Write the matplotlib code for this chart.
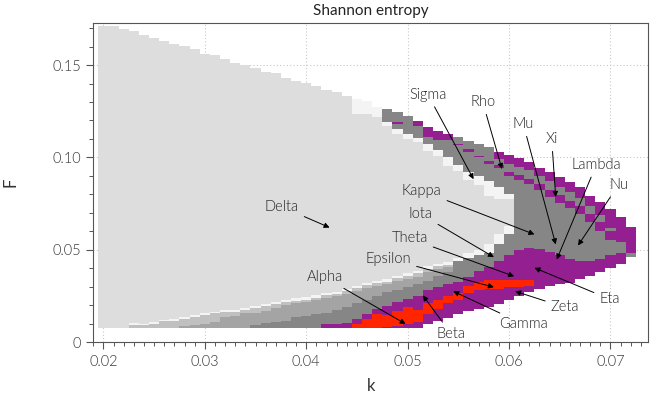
import numpy as np
import matplotlib
matplotlib.use("Agg")
import matplotlib.pyplot as plt
from matplotlib.colors import ListedColormap, BoundaryNorm

nan = np.nan
plt.rcParams['font.family'] = ['Lato', 'DejaVu Sans']
plt.rcParams['font.weight'] = 300

# ---- grid columns (k) ----
k_vals = [0.020, 0.021, 0.022, 0.023, 0.024, 0.025, 0.026, 0.027, 0.028, 0.029,
          0.030, 0.031, 0.032, 0.033, 0.034, 0.035, 0.036, 0.037, 0.038, 0.039,
          0.040, 0.041, 0.042, 0.043, 0.044, 0.045, 0.046, 0.047, 0.048, 0.049,
          0.050, 0.051, 0.052, 0.053, 0.054, 0.055, 0.056, 0.057, 0.058, 0.059,
          0.060, 0.061, 0.062, 0.063, 0.064, 0.065, 0.066, 0.067, 0.068, 0.069,
          0.070, 0.071, 0.072]

# ---- region boundaries in F for every k column ----
f_bot = [0.0075, 0.0075, 0.0075, 0.0075, 0.0075, 0.0075, 0.0075, 0.0075, 0.0075, 0.0075,
         0.0075, 0.0075, 0.0075, 0.0075, 0.0075, 0.0075, 0.0075, 0.0075, 0.0075, 0.0075,
         0.0075, 0.0075, 0.0075, 0.0075, 0.0075, 0.0075, 0.0075, 0.0075, 0.0075, 0.0075,
         0.0075, 0.0075, 0.0098, 0.0113, 0.0131, 0.0152, 0.0167, 0.0180, 0.0192, 0.0207,
         0.0230, 0.0250, 0.0269, 0.0287, 0.0305, 0.0314, 0.0323, 0.0341, 0.0360, 0.0380,
         0.0400, 0.0423, 0.0459]

f_top = [0.1712, 0.1712, 0.1695, 0.1686, 0.1664, 0.1644, 0.1633, 0.1613, 0.1603, 0.1585,
         0.1563, 0.1554, 0.1532, 0.1512, 0.1502, 0.1484, 0.1464, 0.1455, 0.1433, 0.1415,
         0.1406, 0.1386, 0.1366, 0.1356, 0.1334, 0.1316, 0.1305, 0.1275, 0.1262, 0.1244,
         0.1226, 0.1195, 0.1162, 0.1145, 0.1127, 0.1109, 0.1091, 0.1073, 0.1055, 0.1030,
         0.1012, 0.0995, 0.0973, 0.0946, 0.0919, 0.0892, 0.0865, 0.0838, 0.0793, 0.0757,
         0.0721, 0.0676, 0.0622]

# Delta (light grey) region
delta_top = [0.1712, 0.1712, 0.1695, 0.1686, 0.1664, 0.1644, 0.1633, 0.1613, 0.1603, 0.1585,
             0.1563, 0.1554, 0.1532, 0.1512, 0.1502, 0.1484, 0.1464, 0.1455, 0.1433, 0.1415,
             0.1406, 0.1386, 0.1366, 0.1356, 0.1334, 0.1235, 0.1235, 0.1217, 0.1172, 0.1127,
             0.1100, 0.1085, 0.1036, 0.1009, 0.0955, 0.0928, 0.0874, 0.0850, 0.0793, 0.0775,
             0.0775, nan, nan, nan, nan, nan, nan, nan, nan, nan,
             nan, nan, nan]

delta_bot = [0.0075, 0.0075, 0.0075, 0.0105, 0.0097, 0.0107, 0.0121, 0.0125, 0.0134, 0.0147,
             0.0158, 0.0165, 0.0174, 0.0176, 0.0183, 0.0194, 0.0207, 0.0217, 0.0228, 0.0237,
             0.0243, 0.0252, 0.0265, 0.0273, 0.0288, 0.0306, 0.0320, 0.0333, 0.0342, 0.0360,
             0.0373, 0.0386, 0.0410, 0.0426, 0.0436, 0.0455, 0.0480, 0.0500, 0.0532, 0.0586,
             0.0631, nan, nan, nan, nan, nan, nan, nan, nan, nan,
             nan, nan, nan]

# upper near-white strip above Delta
white_top = [0.1712, 0.1712, 0.1695, 0.1686, 0.1664, 0.1644, 0.1633, 0.1613, 0.1603, 0.1585,
             0.1563, 0.1554, 0.1532, 0.1512, 0.1502, 0.1484, 0.1464, 0.1455, 0.1433, 0.1415,
             0.1406, 0.1386, 0.1366, 0.1356, 0.1334, 0.1316, 0.1305, 0.1275, 0.1190, 0.1154,
             0.1125, 0.1105, 0.1076, 0.1040, 0.1000, 0.0960, 0.0919, 0.0900, 0.0870, 0.0838,
             0.0800, nan, nan, nan, nan, nan, nan, nan, nan, nan,
             nan, nan, nan]

# lower near-white strip below Delta
white_bot = [0.0075, 0.0075, 0.0075, 0.0095, 0.0092, 0.0098, 0.0112, 0.0116, 0.0125, 0.0137,
             0.0147, 0.0155, 0.0164, 0.0165, 0.0172, 0.0183, 0.0196, 0.0205, 0.0216, 0.0225,
             0.0231, 0.0240, 0.0253, 0.0260, 0.0275, 0.0293, 0.0307, 0.0320, 0.0328, 0.0346,
             0.0359, 0.0372, 0.0395, 0.0411, 0.0420, 0.0438, 0.0455, 0.0470, 0.0480, 0.0532,
             0.0586, nan, nan, nan, nan, nan, nan, nan, nan, nan,
             nan, nan, nan]

# top of the medium grey layer
mid_top = [0.0075, 0.0075, 0.0075, 0.0075, 0.0075, 0.0075, 0.0075, 0.0075, 0.0084, 0.0090,
           0.0098, 0.0111, 0.0134, 0.0143, 0.0156, 0.0161, 0.0170, 0.0185, 0.0200, 0.0210,
           0.0218, 0.0228, 0.0240, 0.0248, 0.0262, 0.0278, 0.0292, 0.0305, 0.0312, 0.0330,
           0.0342, 0.0355, 0.0380, 0.0395, 0.0405, 0.0438, 0.0455, 0.0470, 0.0480, 0.0532,
           0.0586, nan, nan, nan, nan, nan, nan, nan, nan, nan,
           nan, nan, nan]

# top of the dark grey layer
dark_top = [0.0075, 0.0075, 0.0075, 0.0075, 0.0075, 0.0075, 0.0075, 0.0075, 0.0075, 0.0075,
            0.0075, 0.0075, 0.0075, 0.0075, 0.0075, 0.0093, 0.0105, 0.0107, 0.0116, 0.0134,
            0.0143, 0.0150, 0.0160, 0.0175, 0.0190, 0.0210, 0.0230, 0.0250, 0.0270, 0.0279,
            0.0297, 0.0315, 0.0333, 0.0360, 0.0378, 0.0438, 0.0455, 0.0470, 0.0480, 0.0532,
            0.0586, nan, nan, nan, nan, nan, nan, nan, nan, nan,
            nan, nan, nan]

# top of the lower purple region
purple_top = [0.0075, 0.0075, 0.0075, 0.0075, 0.0075, 0.0075, 0.0075, 0.0075, 0.0075, 0.0075,
              0.0075, 0.0075, 0.0075, 0.0075, 0.0075, 0.0075, 0.0075, 0.0075, 0.0075, 0.0075,
              0.0075, 0.0075, 0.0098, 0.0098, 0.0105, 0.0125, 0.0152, 0.0179, 0.0197, 0.0215,
              0.0233, 0.0251, 0.0279, 0.0297, 0.0315, 0.0324, 0.0351, 0.0387, 0.0405, 0.0440,
              0.0470, 0.0500, 0.0510, 0.0505, 0.0490, 0.0470, 0.0450, 0.0440, 0.0440, 0.0450,
              0.0470, 0.0480, 0.0459]

# red region
red_bot = [nan, nan, nan, nan, nan, nan, nan, nan, nan, nan,
           nan, nan, nan, nan, nan, nan, nan, nan, nan, nan,
           nan, nan, nan, nan, nan, 0.0075, 0.0075, 0.0075, 0.0080, 0.0085,
           0.0100, 0.0110, 0.0150, 0.0180, 0.0210, 0.0230, 0.0265, 0.0280, 0.0285, 0.0290,
           0.0300, 0.0300, 0.0305, nan, nan, nan, nan, nan, nan, nan,
           nan, nan, nan]
red_top = [nan, nan, nan, nan, nan, nan, nan, nan, nan, nan,
           nan, nan, nan, nan, nan, nan, nan, nan, nan, nan,
           nan, nan, nan, nan, nan, 0.0100, 0.0125, 0.0150, 0.0145, 0.0170,
           0.0190, 0.0175, 0.0210, 0.0230, 0.0250, 0.0265, 0.0305, 0.0325, 0.0335, 0.0335,
           0.0335, 0.0335, 0.0335, nan, nan, nan, nan, nan, nan, nan,
           nan, nan, nan]

# outer purple band along the upper edge
outer_bot = [nan, nan, nan, nan, nan, nan, nan, nan, nan, nan,
             nan, nan, nan, nan, nan, nan, nan, nan, nan, nan,
             nan, nan, nan, nan, nan, nan, nan, nan, nan, nan,
             nan, 0.1170, 0.1110, 0.1095, 0.1095, nan, nan, nan, nan, 0.0990,
             0.0965, 0.0950, 0.0930, 0.0900, 0.0870, 0.0840, 0.0810, 0.0780, 0.0735, 0.0690,
             0.0620, 0.0540, 0.0480]

# inner purple streak inside the grey band
stripe_bot = [nan, nan, nan, nan, nan, nan, nan, nan, nan, nan,
              nan, nan, nan, nan, nan, nan, nan, nan, nan, nan,
              nan, nan, nan, nan, nan, nan, nan, nan, nan, 0.1180,
              nan, nan, nan, nan, nan, 0.1065, 0.1028, 0.1000, 0.0964, 0.0940,
              0.0900, 0.0880, 0.0855, 0.0825, 0.0785, 0.0755, 0.0725, 0.0695, 0.0650, 0.0600,
              0.0555, nan, nan]
stripe_top = [nan, nan, nan, nan, nan, nan, nan, nan, nan, nan,
              nan, nan, nan, nan, nan, nan, nan, nan, nan, nan,
              nan, nan, nan, nan, nan, nan, nan, nan, nan, 0.1190,
              nan, nan, nan, nan, nan, 0.1075, 0.1046, 0.1010, 0.0982, 0.0960,
              0.0920, 0.0905, 0.0885, 0.0855, 0.0825, 0.0795, 0.0765, 0.0735, 0.0695, 0.0650,
              0.0600, nan, nan]

# ---- annotations: label, text position (k, F), arrow tip (k, F) ----
labels = ["Sigma", "Rho", "Mu", "Xi", "Lambda", "Nu", "Kappa", "Delta", "Iota",
          "Theta", "Epsilon", "Alpha", "Beta", "Gamma", "Zeta", "Eta"]
text_k = [0.0520, 0.0574, 0.0614, 0.0642, 0.0686, 0.0708, 0.0514, 0.0376, 0.0513,
          0.0502, 0.0481, 0.0418, 0.0543, 0.0614, 0.0655, 0.0699]
text_F = [0.1340, 0.1300, 0.1181, 0.1100, 0.0960, 0.0852, 0.0819, 0.0732, 0.0692,
          0.0561, 0.0451, 0.0351, 0.0043, 0.0098, 0.0188, 0.0233]
tip_k = [0.0565, 0.0593, 0.0646, 0.0646, 0.0647, 0.0668, 0.0625, 0.0423, 0.0585,
         0.0605, 0.0585, 0.0498, 0.0515, 0.0545, 0.0606, 0.0625]
tip_F = [0.0882, 0.0937, 0.0529, 0.0786, 0.0447, 0.0523, 0.0583, 0.0620, 0.0460,
         0.0356, 0.0297, 0.0098, 0.0253, 0.0275, 0.0275, 0.0402]

# ---- build categorical image ----
NONE, LG, WH, C1, C2, C3, PUR, RED = range(8)
colors = ['#ffffff', '#dddddd', '#f4f4f4', '#c0c0c0', '#a4a4a4', '#868686', '#931f90', '#ff2500']


def classify(n, F):
    if F < f_bot[n] or F >= f_top[n]:
        return NONE
    if red_bot[n] <= F < red_top[n]:
        return RED
    if F < purple_top[n]:
        return PUR
    if not np.isnan(delta_bot[n]):
        if F < dark_top[n]:
            return C3
        if F < mid_top[n]:
            return C2
        if F < white_bot[n]:
            return C1
        if F < delta_bot[n]:
            return WH
        if F < delta_top[n]:
            return LG
        if F < white_top[n]:
            return WH
    if outer_bot[n] <= F:
        return PUR
    if stripe_bot[n] <= F < stripe_top[n]:
        return PUR
    return C3


dk = k_vals[1] - k_vals[0]
k_edges = np.append(np.array(k_vals) - dk / 2, k_vals[-1] + dk / 2)
dF = 0.00025
F_edges = np.arange(0.0, 0.1750 + dF, dF)
F_cent = 0.5 * (F_edges[:-1] + F_edges[1:])
grid = np.zeros((len(F_cent), len(k_vals)), dtype=int)
for n in range(len(k_vals)):
    for j, F in enumerate(F_cent):
        grid[j, n] = classify(n, F)
grid = np.ma.masked_equal(grid, NONE)

fig = plt.figure(figsize=(6.64, 3.95), dpi=100)
ax = fig.add_axes([0.1405, 0.134, 0.8354, 0.807])

cmap = ListedColormap(colors)
norm = BoundaryNorm(np.arange(-0.5, 8.5, 1), cmap.N)
ax.pcolormesh(k_edges, F_edges, grid, cmap=cmap, norm=norm,
              shading='flat', edgecolors='none', antialiased=False, zorder=1)

ax.set_xlim(0.0190, 0.0737)
ax.set_ylim(0.0, 0.1726)

ax.set_xticks([0.02, 0.03, 0.04, 0.05, 0.06, 0.07])
ax.set_xticklabels(["0.02", "0.03", "0.04", "0.05", "0.06", "0.07"])
ax.set_yticks([0.0, 0.05, 0.10, 0.15])
ax.set_yticklabels(["0", "0.05", "0.10", "0.15"])
ax.set_xticks(np.arange(0.019, 0.0738, 0.001), minor=True)
ax.set_yticks(np.arange(0.0, 0.1726, 0.01), minor=True)
ax.tick_params(which='major', direction='out', length=5, width=0.8, color='#555555',
               labelsize=10.5, labelcolor='#333333', top=False, right=False, pad=4)
ax.tick_params(which='minor', direction='out', length=3, width=0.7, color='#555555',
               top=False, right=False)

ax.grid(True, which='major', linestyle=(0, (1, 2)), color='#c8c8c8', linewidth=0.8)
ax.set_axisbelow(True)
for sp in ax.spines.values():
    sp.set_color('#555555')
    sp.set_linewidth(0.8)

ax.set_xlabel("k", fontsize=12, color='#333333', labelpad=7)
ax.set_ylabel("F", fontsize=12, color='#333333', labelpad=24)
ax.set_title("Shannon entropy", fontsize=11, color='#222222', pad=6)

for lab, tx, ty, ex, ey in zip(labels, text_k, text_F, tip_k, tip_F):
    ax.annotate(lab, xy=(ex, ey), xytext=(tx, ty), ha='center', va='center',
                fontsize=10.5, color='#222222', zorder=5,
                arrowprops=dict(arrowstyle='-|>', color='black', lw=0.7,
                                mutation_scale=8, shrinkA=2, shrinkB=0))

fig.savefig("out.png", dpi=100)
